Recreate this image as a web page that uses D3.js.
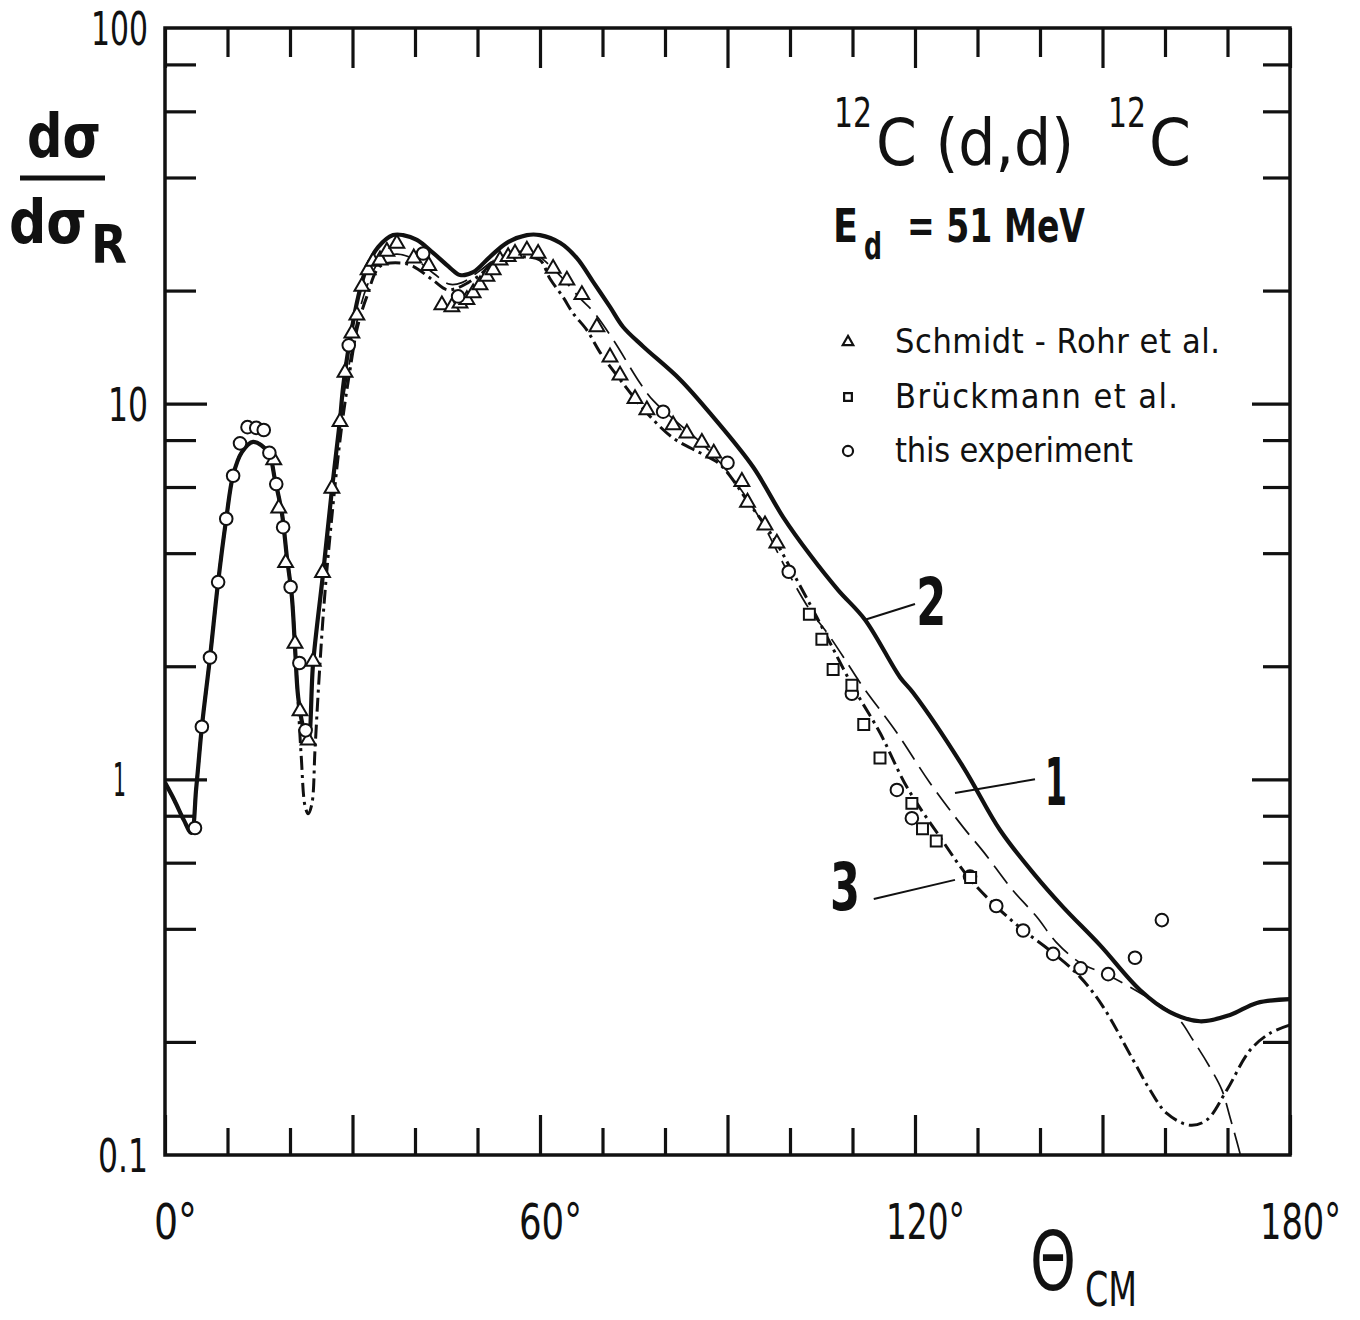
<!DOCTYPE html>
<html>
<head>
<meta charset="utf-8">
<script src="https://cdn.jsdelivr.net/npm/d3@7"></script>
<style>
body { margin: 0; background: #fff; }
svg text { fill: #111; }
.narrow { font-family: 'DejaVu Sans Condensed', 'DejaVu Sans', sans-serif; }
.plain { font-family: 'DejaVu Sans', 'Liberation Sans', sans-serif; }
</style>
</head>
<body>
<div id="chart"></div>
<script>
// curve 2 (full line)
var theta2 = [0, 1.5, 3, 4.2, 5, 5.9, 7.2, 8.5, 9.8, 10.9, 12.3, 14.1, 16.5, 17.6, 18.7, 19.5, 20.3, 20.8, 21.3, 22.1,
	22.9, 23.7, 25.3, 26.7, 28, 28.5, 29.6, 30.9, 32.3, 34.1, 36.5, 38.1, 40.3, 42.9, 45.6, 47.2, 49.3, 52, 54.7, 57.9,
	60, 63.2, 65.9, 68.5, 71.2, 73.3, 76.5, 82.4, 87.7, 94.1, 98.9, 103.2, 107.7, 112, 117.6, 119.7, 127.7, 133.6, 139.2, 143.7,
	149.6, 156, 160.8, 165.6, 170.4, 174.7, 180];
var val2 = [0.98, 0.88, 0.78, 0.72, 0.95, 1.38, 2.11, 3.35, 4.94, 6.45, 7.43, 7.91, 7.43, 6.26, 5.12, 3.91, 3.06, 2.25, 1.66, 1.38,
	1.27, 2.04, 3.54, 5.89, 9.05, 11.1, 14.8, 19.2, 23.1, 26.1, 28.1, 28.1, 27.3, 25.2, 23.0, 22.0, 22.4, 24.6, 26.8, 28.1,
	28.1, 26.8, 24.4, 21.1, 18.1, 16.0, 14.2, 11.6, 9.22, 6.78, 4.99, 3.96, 3.19, 2.66, 1.87, 1.70, 1.08, 0.733, 0.556, 0.457,
	0.362, 0.275, 0.240, 0.227, 0.236, 0.254, 0.260];

// curve 3 (dash-dot)
var theta3 = [0, 1.5, 3, 4.2, 5, 5.9, 7.2, 8.5, 9.8, 10.9, 12.3, 14.1, 16.5, 17.6, 18.7, 19.5, 20.3, 20.8, 21.3, 21.8,
	22.4, 22.9, 23.5, 24.0, 24.6, 25.5, 26.8, 28.2, 29.5, 30.8, 32.3, 34.4, 37.6, 39.7, 42.9, 45.1, 46.7, 48.5, 50.4, 52.5,
	55, 57.3, 60, 61.6, 63.7, 65.3, 67.5, 69.6, 72.8, 77.1, 81.3, 85.6, 88.3, 90, 93.1, 97.3, 100.5, 103.7, 106.4, 110.1,
	114.4, 118.7, 124, 128.5, 133.1, 137.3, 142.1, 146.4, 150.1, 154.9, 157.6, 160.3, 164, 166.7, 169.9, 173.6, 176.8, 180];
var val3 = [0.98, 0.88, 0.78, 0.72, 0.95, 1.38, 2.11, 3.35, 4.94, 6.45, 7.43, 7.91, 7.43, 6.26, 5.12, 3.91, 3.06, 2.25, 1.6, 1.15,
	0.85, 0.81, 0.86, 1.2, 1.8, 3.0, 5.2, 8.5, 12.0, 16.0, 19.3, 23.2, 23.7, 23.2, 21.3, 20.1, 20.3, 21.0, 22.0, 23.7,
	24.4, 24.6, 24.1, 21.5, 19.2, 17.4, 15.7, 13.7, 11.6, 9.45, 8.1, 7.4, 7.0, 6.55, 5.54, 4.41, 3.54, 2.82, 2.31, 1.76,
	1.33, 0.954, 0.702, 0.55, 0.457, 0.397, 0.345, 0.298, 0.248, 0.179, 0.149, 0.129, 0.120, 0.124, 0.149, 0.190, 0.211, 0.222];

// curve 1 (dashed)
var theta1 = [0, 1.5, 3, 4.2, 5, 5.9, 7.2, 8.5, 9.8, 10.9, 12.3, 14.1, 16.5, 17.6, 18.7, 19.5, 20.3, 20.8, 21.3, 22.1,
	22.9, 23.7, 25.3, 26.7, 28, 29.5, 30.8, 32.3, 34.4, 37, 40, 43, 45.5, 47.5, 50.4, 53, 56.5, 59, 61.6, 64,
	66.5, 68.5, 71.7, 76, 78.1, 82, 86, 90, 95, 99.5, 103.2, 106.2, 109.5, 111.7, 117.1, 122.4, 127.7, 131, 135.5, 139.5,
	142.5, 146.4, 150.9, 156.5, 161.9, 164.5, 167.2, 169.1, 170.4, 172, 173.5];
var val1 = [0.98, 0.88, 0.78, 0.72, 0.95, 1.38, 2.11, 3.35, 4.94, 6.45, 7.43, 7.91, 7.43, 6.26, 5.12, 3.91, 3.06, 2.25, 1.66, 1.38,
	1.27, 2.04, 3.54, 5.89, 9.05, 12.8, 16.8, 20.5, 24.0, 25.0, 24.2, 22.2, 20.8, 21.0, 22.6, 24.3, 25.4, 25.2, 23.3, 21.2,
	19.0, 17.6, 14.8, 11.35, 10.2, 8.9, 7.8, 6.6, 5.0, 3.6, 2.82, 2.42, 2.0, 1.76, 1.33, 0.978, 0.746, 0.64, 0.51, 0.43,
	0.37, 0.325, 0.301, 0.267, 0.233, 0.202, 0.171, 0.149, 0.126, 0.101, 0.08];

// Schmidt-Rohr et al. (triangles)
var triTheta = [17.4, 18.2, 19.3, 20.8, 21.6, 22.9, 23.7, 25.2, 26.7, 28.0, 28.8, 29.9, 30.7, 31.5, 32.5, 33.3, 34.4, 35.5, 37.1, 39.8,
	42.2, 44.3, 45.9, 47.2, 48.3, 49.3, 50.4, 51.5, 52.5, 53.6, 54.9, 56.0, 57.9, 59.7, 62.1, 64.3, 66.7, 69.1, 71.2, 72.8,
	75.2, 77.1, 81.3, 83.5, 85.9, 87.8, 92.3, 93.2, 96.0, 97.9];
var triVal = [7.08, 5.27, 3.77, 2.30, 1.52, 1.27, 2.06, 3.55, 5.95, 8.95, 12.1, 15.4, 17.2, 20.5, 22.7, 23.9, 24.1, 25.4, 26.7, 24.4,
	23.3, 18.3, 18.1, 18.5, 18.9, 19.7, 20.7, 21.8, 22.7, 24.1, 24.6, 25.1, 25.6, 25.1, 22.9, 21.3, 19.5, 16.0, 13.3, 11.9,
	10.3, 9.62, 8.77, 8.34, 7.88, 7.38, 6.20, 5.46, 4.75, 4.25];

// Brueckmann et al. (squares)
var sqTheta = [103.1, 105.1, 106.9, 109.9, 111.8, 114.4, 119.5, 121.2, 123.4, 128.9];
var sqVal = [2.75, 2.36, 1.96, 1.78, 1.40, 1.14, 0.863, 0.739, 0.685, 0.548];

// this experiment (circles)
var circTheta = [4.8, 5.9, 7.2, 8.5, 9.8, 10.9, 12.0, 13.2, 14.6, 15.8, 16.7, 17.8, 18.9, 20.1, 21.5, 22.5, 29.4, 41.3, 46.9, 79.7,
	90.0, 99.8, 109.9, 117.1, 119.5, 128.8, 133.0, 137.3, 142.1, 146.5, 150.9, 155.2, 159.5];
var circVal = [0.742, 1.38, 2.11, 3.35, 4.94, 6.43, 7.84, 8.66, 8.62, 8.51, 7.4, 6.11, 4.69, 3.25, 2.04, 1.35, 14.3, 25.1, 19.3, 9.52,
	6.96, 3.57, 1.69, 0.937, 0.788, 0.551, 0.460, 0.396, 0.343, 0.314, 0.303, 0.335, 0.422];

var xTickLabels = ['0°', '60°', '120°', '180°'];
var yTickLabels = ['100', '10', '1', '0.1'];
var legendLabels = ['Schmidt - Rohr  et  al.', 'Brückmann  et  al.', 'this  experiment'];

var width = 1360;
var height = 1320;
var plotLeft = 165, plotRight = 1290, plotTop = 28, plotBottom = 1155;
var ink = '#111';

var svg = d3.select('#chart')
	.append('svg')
	.attr('width', width)
	.attr('height', height);

svg.append('rect').attr('width', width).attr('height', height).attr('fill', '#fff');

var x = d3.scaleLinear().domain([0, 180]).range([plotLeft, plotRight]);
var y = d3.scaleLog().domain([0.1, 100]).range([plotBottom, plotTop]);

svg.append('clipPath').attr('id', 'plot')
	.append('rect')
	.attr('x', plotLeft).attr('y', plotTop)
	.attr('width', plotRight - plotLeft).attr('height', plotBottom - plotTop);

// squeeze a text to a given width, like the narrow lettering of the original
function squeeze(sel, w){
	return sel.attr('textLength', w).attr('lengthAdjust', 'spacingAndGlyphs');
}

// ticks, all pointing inward
var minorX = d3.range(0, 181, 10).filter(function(d){ return d % 30 !== 0; });
var majorX = d3.range(0, 181, 30);
var minorY = [0.2, 0.4, 0.6, 0.8, 2, 4, 6, 8, 20, 40, 60, 80];
var majorY = [1, 10];

function tickAxis(axis, pos){
	var g = svg.append('g').attr('transform', pos).call(axis.tickFormat('').tickSizeOuter(0));
	g.select('.domain').remove();
	g.selectAll('line').attr('stroke', ink).attr('stroke-width', 3.2);
}
tickAxis(d3.axisBottom(x).tickValues(minorX).tickSizeInner(-27), 'translate(0,' + plotBottom + ')');
tickAxis(d3.axisBottom(x).tickValues(majorX).tickSizeInner(-40), 'translate(0,' + plotBottom + ')');
tickAxis(d3.axisTop(x).tickValues(minorX).tickSizeInner(-29), 'translate(0,' + plotTop + ')');
tickAxis(d3.axisTop(x).tickValues(majorX).tickSizeInner(-40), 'translate(0,' + plotTop + ')');
tickAxis(d3.axisLeft(y).tickValues(minorY).tickSizeInner(-31), 'translate(' + plotLeft + ',0)');
tickAxis(d3.axisLeft(y).tickValues(majorY).tickSizeInner(-42), 'translate(' + plotLeft + ',0)');
tickAxis(d3.axisRight(y).tickValues(minorY).tickSizeInner(-27), 'translate(' + plotRight + ',0)');
tickAxis(d3.axisRight(y).tickValues(majorY).tickSizeInner(-38), 'translate(' + plotRight + ',0)');

svg.append('rect')
	.attr('x', plotLeft).attr('y', plotTop)
	.attr('width', plotRight - plotLeft).attr('height', plotBottom - plotTop)
	.attr('fill', 'none')
	.attr('stroke', ink)
	.attr('stroke-width', 3.5);

// tick labels: the digits sit centred on the tick, the degree sign follows
var xDigitWidth = {'0°': 22, '60°': 42, '120°': 58, '180°': 60};
xTickLabels.forEach(function(lab){
	var w = xDigitWidth[lab];
	squeeze(svg.append('text').attr('class', 'narrow')
		.attr('x', x(parseFloat(lab)) - w / 2)
		.attr('y', plotBottom + 84)
		.attr('font-size', 50)
		.text(lab), w + 21);
});

var yLabelWidth = {'100': 57, '10': 40, '1': 13, '0.1': 50};
yTickLabels.forEach(function(lab){
	var v = +lab;
	var w = yLabelWidth[lab];
	var xr = v === 1 ? 126 : 148;
	squeeze(svg.append('text').attr('class', 'narrow')
		.attr('x', xr - w)
		.attr('y', y(v) + 17)
		.attr('font-size', 46)
		.text(lab), w);
});

// curves
function zip(a, b){
	return a.map(function(d, i){ return [d, b[i]]; });
}
var line = d3.line()
	.x(function(d){ return x(d[0]); })
	.y(function(d){ return y(d[1]); })
	.curve(d3.curveCatmullRom.alpha(0.5));

var curves = svg.append('g').attr('clip-path', 'url(#plot)');

curves.append('path')
	.attr('d', line(zip(theta1, val1)))
	.attr('fill', 'none')
	.attr('stroke', ink)
	.attr('stroke-width', 1.7)
	.attr('stroke-dasharray', '22,9');

curves.append('path')
	.attr('d', line(zip(theta3, val3)))
	.attr('fill', 'none')
	.attr('stroke', ink)
	.attr('stroke-width', 3)
	.attr('stroke-dasharray', '14,5,3,5');

curves.append('path')
	.attr('d', line(zip(theta2, val2)))
	.attr('fill', 'none')
	.attr('stroke', ink)
	.attr('stroke-width', 4.2);

// data points
var tri = d3.symbol().type(d3.symbolTriangle).size(95);
var sq = d3.symbol().type(d3.symbolSquare).size(120);

svg.append('g').selectAll('path')
	.data(zip(triTheta, triVal))
	.enter()
	.append('path')
	.attr('d', tri)
	.attr('transform', function(d){ return 'translate(' + x(d[0]) + ',' + y(d[1]) + ')'; })
	.attr('fill', '#fff')
	.attr('stroke', ink)
	.attr('stroke-width', 2);

svg.append('g').selectAll('circle')
	.data(zip(circTheta, circVal))
	.enter()
	.append('circle')
	.attr('cx', function(d){ return x(d[0]); })
	.attr('cy', function(d){ return y(d[1]); })
	.attr('r', 6.3)
	.attr('fill', '#fff')
	.attr('stroke', ink)
	.attr('stroke-width', 2);

svg.append('g').selectAll('path')
	.data(zip(sqTheta, sqVal))
	.enter()
	.append('path')
	.attr('d', sq)
	.attr('transform', function(d){ return 'translate(' + x(d[0]) + ',' + y(d[1]) + ')'; })
	.attr('fill', '#fff')
	.attr('stroke', ink)
	.attr('stroke-width', 2);

// curve numbers with leader lines (anchors in data space)
var curveLabels = [
	{text: '2', at: [120.2, 2.58], lx: 112.0, ly: 2.66, ex: 120.0, ey: 2.93},
	{text: '1', at: [140.8, 0.855], lx: 126.4, ly: 0.92, ex: 139.2, ey: 1.0},
	{text: '3', at: [106.4, 0.45], lx: 113.4, ly: 0.48, ex: 126.4, ey: 0.54}
];
curveLabels.forEach(function(c){
	svg.append('line')
		.attr('x1', x(c.lx)).attr('y1', y(c.ly))
		.attr('x2', x(c.ex)).attr('y2', y(c.ey))
		.attr('stroke', ink).attr('stroke-width', 2);
	squeeze(svg.append('text').attr('class', 'plain')
		.attr('x', x(c.at[0])).attr('y', y(c.at[1]))
		.attr('font-size', 66)
		.attr('font-weight', 'bold')
		.text(c.text), c.text === '1' ? 22 : 30);
});

// title block
var title = svg.append('text').attr('x', 834).attr('y', 165);
squeeze(title.append('tspan').attr('class', 'narrow').attr('font-size', 40).attr('dy', -38).text('12'), 38);
squeeze(title.append('tspan').attr('class', 'plain').attr('font-size', 64).attr('x', 876).attr('dy', 38).text('C (d,d)'), 198);
squeeze(title.append('tspan').attr('class', 'narrow').attr('font-size', 40).attr('x', 1108).attr('dy', -38).text('12'), 38);
squeeze(title.append('tspan').attr('class', 'plain').attr('font-size', 64).attr('x', 1149).attr('dy', 38).text('C'), 42);

var energy = svg.append('text').attr('class', 'plain').attr('x', 833).attr('y', 242).attr('font-weight', 'bold');
squeeze(energy.append('tspan').attr('font-size', 46).text('E'), 25);
squeeze(energy.append('tspan').attr('font-size', 38).attr('x', 864).attr('dy', 17).text('d'), 18);
squeeze(energy.append('tspan').attr('font-size', 46).attr('x', 907).attr('dy', -17).text('= 51 MeV'), 178);

// legend
var legendY = [342, 397, 451];
var legendWidth = [325, 283, 238];
var legend = svg.selectAll('.legend')
	.data(legendLabels)
	.enter()
	.append('g')
	.attr('class', 'legend')
	.attr('transform', function(d, i){ return 'translate(848,' + legendY[i] + ')'; });

legend.append('path')
	.attr('d', function(d, i){
		if (i === 0) return d3.symbol().type(d3.symbolTriangle).size(48)();
		if (i === 1) return d3.symbol().type(d3.symbolSquare).size(60)();
		return d3.symbol().type(d3.symbolCircle).size(80)();
	})
	.attr('fill', '#fff')
	.attr('stroke', ink)
	.attr('stroke-width', 2.2);

legend.append('text').attr('class', 'narrow')
	.attr('x', 47)
	.attr('y', 11)
	.attr('font-size', 34)
	.attr('textLength', function(d, i){ return legendWidth[i]; })
	.attr('lengthAdjust', 'spacing')
	.text(function(d){ return d; });

// y axis title: d sigma / d sigma_R
squeeze(svg.append('text').attr('class', 'plain').attr('x', 27).attr('y', 157)
	.attr('font-size', 60).attr('font-weight', 'bold').text('dσ'), 74);
svg.append('line').attr('x1', 20).attr('x2', 105).attr('y1', 178).attr('y2', 178)
	.attr('stroke', ink).attr('stroke-width', 5);
var ylab = svg.append('text').attr('class', 'plain').attr('x', 9).attr('y', 243).attr('font-weight', 'bold');
squeeze(ylab.append('tspan').attr('font-size', 60).text('dσ'), 78);
squeeze(ylab.append('tspan').attr('font-size', 54).attr('x', 91).attr('dy', 20).text('R'), 36);

// x axis title
var xlab = svg.append('text').attr('class', 'plain').attr('x', 1030).attr('y', 1290);
squeeze(xlab.append('tspan').attr('font-size', 82).text('Θ'), 46);
squeeze(xlab.append('tspan').attr('font-size', 48).attr('x', 1085).attr('dy', 16).text('CM'), 52);
</script>
</body>
</html>
